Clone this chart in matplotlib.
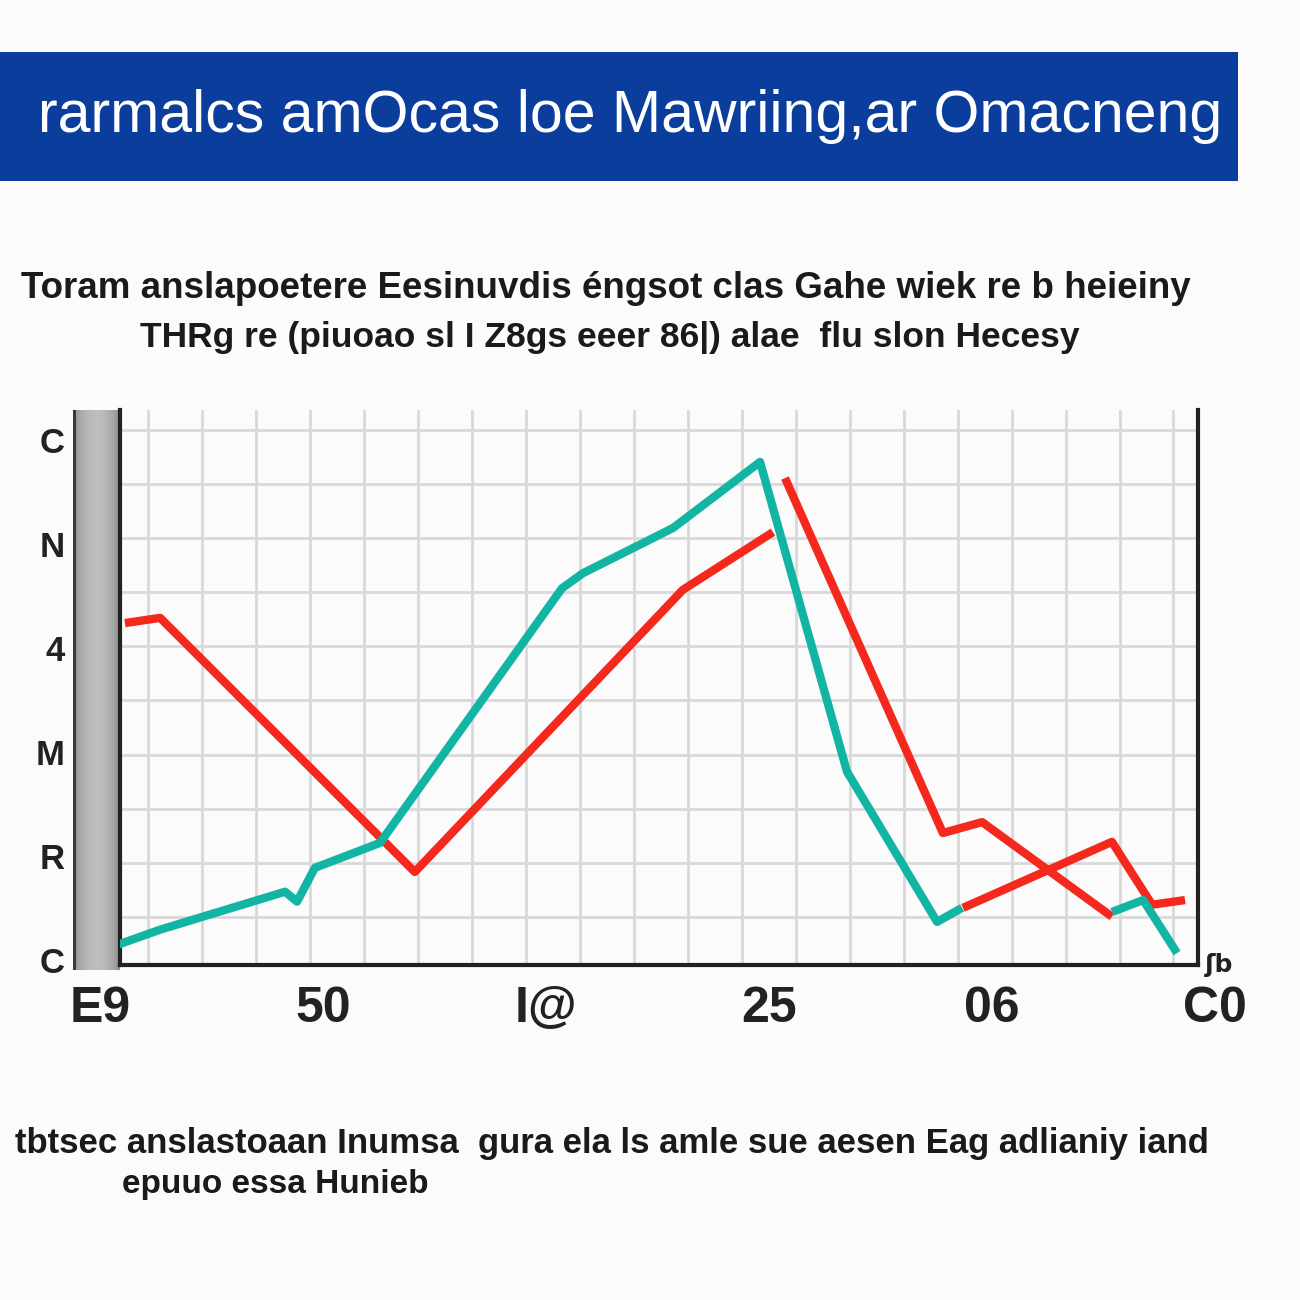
from matplotlib import pyplot as plt
from matplotlib import transforms
import numpy as np

# text as it appears in the picture
title = "rarmalcs amOcas loe Mawriing,ar Omacneng"
subtitle_1 = "Toram anslapoetere Eesinuvdis éngsot clas Gahe wiek re b heieiny"
subtitle_2 = "THRg re (piuoao sl I Z8gs eeer 86|) alae  flu slon Hecesy"
footer_1 = "tbtsec anslastoaan Inumsa  gura ela ls amle sue aesen Eag adlianiy iand"
footer_2 = "epuuo essa Hunieb"

x_ticks = [0, 50, 100, 150, 200, 250]
x_labels = ["E9", "50", "I@", "25", "06", "C0"]
y_ticks = [0, 20, 40, 60, 80, 100]
y_labels = ["C", "R", "M", "4", "N", "C"]

# red series (gaps where the line breaks)
red_x = [5.6, 13.5, 70.6, 130.7, 150.9, np.nan, 153.6, 189.0, 197.8, 226.9,
         np.nan, 193.5, 226.9, 235.9, 243.3]
red_y = [64.8, 65.8, 16.9, 71.2, 82.3, np.nan, 92.7, 24.4, 26.5, 8.3,
         np.nan, 10.0, 22.7, 10.6, 11.5]

# teal series
teal_x = [4.0, 13.5, 41.5, 44.2, 48.2, 62.8, 103.6, 108.3, 128.5, 148.0,
          167.5, 187.7, 193.3, np.nan, 226.9, 233.9, 241.5]
teal_y = [2.9, 5.8, 13.1, 11.2, 17.7, 22.5, 71.5, 74.4, 83.1, 95.8,
          36.2, 7.3, 10.0, np.nan, 9.2, 11.5, 1.3]

sans = ["Liberation Sans", "DejaVu Sans"]
bg = "#fbfbfb"

fig = plt.figure(figsize=(13, 13), dpi=100, facecolor=bg)
W = H = 1300.0

# blue title banner
ban = fig.add_axes([0, 1 - 181 / H, 1238 / W, 129 / H])
ban.set_facecolor("#0b3d9c")
ban.set_xticks([])
ban.set_yticks([])
for s in ban.spines.values():
    s.set_visible(False)
fig.text(1222 / W, 1 - 116 / H, title, color="white", fontsize=42.5,
         family=sans, ha="right", va="center")

fig.text(606 / W, 1 - 288 / H, subtitle_1, fontsize=26.5, weight="bold",
         family=sans, ha="center", va="center", color="#1a1a1a")
fig.text(610 / W, 1 - 338 / H, subtitle_2, fontsize=25.5, weight="bold",
         family=sans, ha="center", va="center", color="#1a1a1a")

# gray bar left of the plot
bar = fig.add_axes([73 / W, 1 - 970 / H, 47 / W, 560 / H])
grad = np.linspace(0, 1, 50)
shade = 0.52 + 0.22 * np.sin(grad * np.pi) ** 0.6
bar.imshow(np.tile(shade, (10, 1)), cmap="gray", vmin=0, vmax=1,
           aspect="auto", extent=[0, 1, 0, 1])
bar.set_xticks([])
bar.set_yticks([])
for s in bar.spines.values():
    s.set_visible(False)
bar.axvline(0.03, color="#333333", lw=2)

# main plot
ax = fig.add_axes([120 / W, 1 - 965 / H, 1078 / W, 555 / H])
ax.patch.set_alpha(0)
ax.set_xlim(4.5, 246.2)
ax.set_ylim(-1.0, 105.8)

for gx in np.arange(10.8, 246, 12.1):
    ax.axvline(gx, color="#d9d9d9", lw=2, zorder=0)
for gy in np.arange(8.3 - 10.4, 106, 10.4):
    if gy > 0:
        ax.axhline(gy, color="#d9d9d9", lw=2, zorder=0)

ax.plot(red_x, red_y, color="#f5281e", lw=6, solid_capstyle="butt", zorder=3)
ax.plot(teal_x, teal_y, color="#12b5a4", lw=6, solid_capstyle="butt", zorder=3)

ax.spines["top"].set_visible(False)
for side in ["left", "right", "bottom"]:
    ax.spines[side].set_color("#222222")
    ax.spines[side].set_linewidth(3)

ax.set_yticks(y_ticks, y_labels)
ax.tick_params(axis="y", length=0, pad=40, labelsize=25)
for lab in ax.get_yticklabels():
    lab.set_fontweight("bold")
    lab.set_family(sans)
    lab.set_color("#222222")

ax.set_xticks([])
trans = transforms.blended_transform_factory(ax.transData, ax.transAxes)
for xv, lab in zip(x_ticks, x_labels):
    ax.text(xv, -0.08, lab, transform=trans, ha="center", va="center",
            fontsize=36, family=sans, weight="bold", color="#222222",
            clip_on=False)
ax.text(251, 0.0, "ʃb", transform=trans, ha="center", va="center",
        fontsize=18, weight="bold", color="#222222", clip_on=False)

fig.text(612 / W, 1 - 1143 / H, footer_1, fontsize=25, weight="bold",
         family=sans, ha="center", va="center", color="#1a1a1a")
fig.text(275 / W, 1 - 1185 / H, footer_2, fontsize=24, weight="bold",
         family=sans, ha="center", va="center", color="#1a1a1a")

fig.savefig("out.png", dpi=100, facecolor=bg)
